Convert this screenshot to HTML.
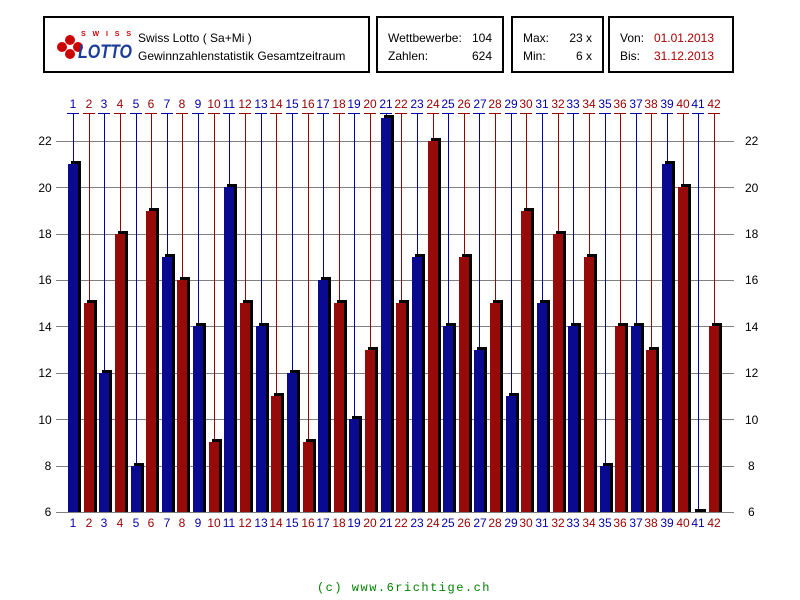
<!DOCTYPE html>
<html><head><meta charset="utf-8"><style>
html,body{margin:0;padding:0;background:#fff;}
body{width:800px;height:600px;position:relative;overflow:hidden;font-family:"Liberation Sans",sans-serif;}
.box{position:absolute;border:2px solid #000;box-sizing:border-box;font-size:12px;color:#000;}
</style></head><body>
<div class="box" style="left:43px;top:16px;width:327px;height:57px;">
 <svg style="position:absolute;left:8px;top:10px" width="82" height="34">
  <circle cx="9" cy="19" r="5" fill="#c00"/><circle cx="17" cy="12" r="5" fill="#c00"/><circle cx="17" cy="26" r="5" fill="#c00"/><circle cx="25" cy="19" r="5" fill="#c00"/>
  <text x="28" y="8" font-size="7" font-weight="bold" fill="#c00" font-family="Liberation Sans" textLength="50">SWISS</text>
  <text x="25" y="30" font-size="19" font-weight="bold" font-style="italic" fill="#1a3c9c" font-family="Liberation Sans" textLength="54" lengthAdjust="spacingAndGlyphs">LOTTO</text>
 </svg>
 <div style="position:absolute;left:93px;top:11px;line-height:18px;">Swiss Lotto ( Sa+Mi )<br>Gewinnzahlenstatistik Gesamtzeitraum</div>
</div>
<div class="box" style="left:376px;top:16px;width:128px;height:57px;">
 <div style="position:absolute;left:10px;top:11px;line-height:18px;">Wettbewerbe:<br>Zahlen:</div>
 <div style="position:absolute;right:10px;top:11px;line-height:18px;text-align:right;">104<br>624</div>
</div>
<div class="box" style="left:511px;top:16px;width:93px;height:57px;">
 <div style="position:absolute;left:10px;top:11px;line-height:18px;">Max:<br>Min:</div>
 <div style="position:absolute;right:10px;top:11px;line-height:18px;text-align:right;">23 x<br>6 x</div>
</div>
<div class="box" style="left:608px;top:16px;width:126px;height:57px;">
 <div style="position:absolute;left:10px;top:11px;line-height:18px;">Von:<br>Bis:</div>
 <div style="position:absolute;right:18px;top:11px;line-height:18px;color:#a00;">01.01.2013<br>31.12.2013</div>
</div>
<svg id="ch" style="position:absolute;left:0;top:0" width="800" height="600" font-family="Liberation Sans" font-size="12">
 <g id="grid" stroke="#808080" stroke-width="1"></g>
 <g font-size="12" fill="#000">
  <text x="48" y="516" text-anchor="middle">6</text><text x="48" y="470" text-anchor="middle">8</text>
  <text x="45" y="424" text-anchor="middle">10</text><text x="45" y="377" text-anchor="middle">12</text>
  <text x="45" y="331" text-anchor="middle">14</text><text x="45" y="284" text-anchor="middle">16</text>
  <text x="45" y="238" text-anchor="middle">18</text><text x="45" y="192" text-anchor="middle">20</text>
  <text x="45" y="145" text-anchor="middle">22</text>
  <text x="748" y="516">6</text><text x="748" y="470">8</text>
  <text x="745" y="424">10</text><text x="745" y="377">12</text>
  <text x="745" y="331">14</text><text x="745" y="284">16</text>
  <text x="745" y="238">18</text><text x="745" y="192">20</text>
  <text x="745" y="145">22</text>
 </g>
 <g id="bars"></g>
 <g id="lab" text-anchor="middle">
<text x="73" y="108" fill="#0000aa">1</text><text x="89" y="108" fill="#990000">2</text><text x="104" y="108" fill="#0000aa">3</text><text x="120" y="108" fill="#990000">4</text><text x="136" y="108" fill="#0000aa">5</text><text x="151" y="108" fill="#990000">6</text><text x="167" y="108" fill="#0000aa">7</text><text x="182" y="108" fill="#990000">8</text><text x="198" y="108" fill="#0000aa">9</text><text x="214" y="108" fill="#990000">10</text><text x="229" y="108" fill="#0000aa">11</text><text x="245" y="108" fill="#990000">12</text><text x="261" y="108" fill="#0000aa">13</text><text x="276" y="108" fill="#990000">14</text><text x="292" y="108" fill="#0000aa">15</text><text x="308" y="108" fill="#990000">16</text><text x="323" y="108" fill="#0000aa">17</text><text x="339" y="108" fill="#990000">18</text><text x="354" y="108" fill="#0000aa">19</text><text x="370" y="108" fill="#990000">20</text><text x="386" y="108" fill="#0000aa">21</text><text x="401" y="108" fill="#990000">22</text><text x="417" y="108" fill="#0000aa">23</text><text x="433" y="108" fill="#990000">24</text><text x="448" y="108" fill="#0000aa">25</text><text x="464" y="108" fill="#990000">26</text><text x="480" y="108" fill="#0000aa">27</text><text x="495" y="108" fill="#990000">28</text><text x="511" y="108" fill="#0000aa">29</text><text x="526" y="108" fill="#990000">30</text><text x="542" y="108" fill="#0000aa">31</text><text x="558" y="108" fill="#990000">32</text><text x="573" y="108" fill="#0000aa">33</text><text x="589" y="108" fill="#990000">34</text><text x="605" y="108" fill="#0000aa">35</text><text x="620" y="108" fill="#990000">36</text><text x="636" y="108" fill="#0000aa">37</text><text x="651" y="108" fill="#990000">38</text><text x="667" y="108" fill="#0000aa">39</text><text x="683" y="108" fill="#990000">40</text><text x="698" y="108" fill="#0000aa">41</text><text x="714" y="108" fill="#990000">42</text>
<text x="73" y="527" fill="#0000aa">1</text><text x="89" y="527" fill="#990000">2</text><text x="104" y="527" fill="#0000aa">3</text><text x="120" y="527" fill="#990000">4</text><text x="136" y="527" fill="#0000aa">5</text><text x="151" y="527" fill="#990000">6</text><text x="167" y="527" fill="#0000aa">7</text><text x="182" y="527" fill="#990000">8</text><text x="198" y="527" fill="#0000aa">9</text><text x="214" y="527" fill="#990000">10</text><text x="229" y="527" fill="#0000aa">11</text><text x="245" y="527" fill="#990000">12</text><text x="261" y="527" fill="#0000aa">13</text><text x="276" y="527" fill="#990000">14</text><text x="292" y="527" fill="#0000aa">15</text><text x="308" y="527" fill="#990000">16</text><text x="323" y="527" fill="#0000aa">17</text><text x="339" y="527" fill="#990000">18</text><text x="354" y="527" fill="#0000aa">19</text><text x="370" y="527" fill="#990000">20</text><text x="386" y="527" fill="#0000aa">21</text><text x="401" y="527" fill="#990000">22</text><text x="417" y="527" fill="#0000aa">23</text><text x="433" y="527" fill="#990000">24</text><text x="448" y="527" fill="#0000aa">25</text><text x="464" y="527" fill="#990000">26</text><text x="480" y="527" fill="#0000aa">27</text><text x="495" y="527" fill="#990000">28</text><text x="511" y="527" fill="#0000aa">29</text><text x="526" y="527" fill="#990000">30</text><text x="542" y="527" fill="#0000aa">31</text><text x="558" y="527" fill="#990000">32</text><text x="573" y="527" fill="#0000aa">33</text><text x="589" y="527" fill="#990000">34</text><text x="605" y="527" fill="#0000aa">35</text><text x="620" y="527" fill="#990000">36</text><text x="636" y="527" fill="#0000aa">37</text><text x="651" y="527" fill="#990000">38</text><text x="667" y="527" fill="#0000aa">39</text><text x="683" y="527" fill="#990000">40</text><text x="698" y="527" fill="#0000aa">41</text><text x="714" y="527" fill="#990000">42</text>
 </g>
 <text x="404" y="591" text-anchor="middle" fill="#008000" font-family="Liberation Mono" font-size="12" letter-spacing="1.5">(c) www.6richtige.ch</text>
</svg>
<script>
(function(){
var v=[21,15,12,18,8,19,17,16,14,9,20,15,14,11,12,9,16,15,10,13,23,15,17,22,14,17,13,15,11,19,15,18,14,17,8,14,14,13,21,20,6,14];
var ns="http://www.w3.org/2000/svg";
function el(g,t,a){var e=document.createElementNS(ns,t);for(var k in a)e.setAttribute(k,a[k]);g.appendChild(e);return e;}
var grid=document.getElementById('grid'),bars=document.getElementById('bars');
function Y(val){return 512-(val-6)*23.19;}
for(var k=6;k<=22;k+=2){var y=Math.round(Y(k))+0.5;el(grid,'line',{x1:56,x2:734,y1:y,y2:y});}
for(var i=0;i<42;i++){
 var c=Math.round(73+i*15.634), odd=(i%2==0);
 var lc=odd?'#0000aa':'#990000', fc=odd?'#0a0a90':'#960a0a';
 var bt=Math.round(Y(v[i]));
 el(bars,'line',{x1:c-6,x2:c+6,y1:113.5,y2:113.5,stroke:lc});
 el(bars,'line',{x1:c+0.5,x2:c+0.5,y1:113,y2:bt-3,stroke:lc});
 if(v[i]>6){
  el(bars,'rect',{x:c-5+3,y:bt-3,width:10,height:512-bt+3,fill:'#000'});
  el(bars,'rect',{x:c-5,y:bt,width:10,height:512-bt,fill:fc});
 } else {
  el(bars,'rect',{x:c-3,y:509,width:11,height:3,fill:'#000'});
 }
}
})();
</script>
</body></html>
